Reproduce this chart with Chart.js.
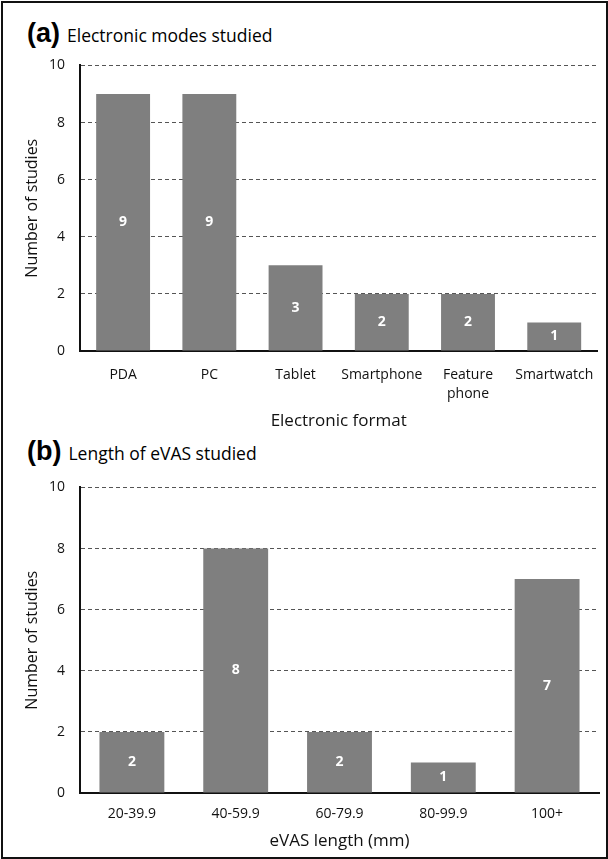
<!DOCTYPE html>
<html>
<head>
<meta charset="utf-8">
<script src="https://cdn.jsdelivr.net/npm/chart.js@4/dist/chart.umd.min.js"></script>
<style>
  html, body { margin: 0; padding: 0; background: #fff; }
  #figure { position: relative; width: 608px; height: 859px; overflow: hidden; }
  #frame { position: absolute; left: 1px; top: 1px; width: 603px; height: 854px; border: 2px solid #111; }
  .panel-title { position: absolute; left: 27px; font-family: "Open Sans", sans-serif; color: #000; white-space: nowrap; line-height: 1; }
  .panel-title b { font-family: "Liberation Sans", Arial, sans-serif; font-size: 27px; font-weight: bold; margin-right: 7px; }
  .panel-title span { font-size: 17.5px; }
  .chart-box { position: absolute; left: 0; width: 608px; }
</style>
</head>
<body>
<div id="figure">
  <div id="frame"></div>
  <div class="panel-title" style="top:20px"><b>(a)</b><span>Electronic modes studied</span></div>
  <div class="chart-box" style="top:42px;height:393px"><canvas id="chartA"></canvas></div>
  <div class="panel-title" style="top:438px"><b>(b)</b><span>Length of eVAS studied</span></div>
  <div class="chart-box" style="top:464px;height:390px"><canvas id="chartB"></canvas></div>
</div>
<script>
// Panel (a): electronic formats
const formats = ['PDA', 'PC', 'Tablet', 'Smartphone', ['Feature', 'phone'], 'Smartwatch'];
const formatStudies = [9, 9, 3, 2, 2, 1];

// Panel (b): eVAS lengths
const lengths = ['20-39.9', '40-59.9', '60-79.9', '80-99.9', '100+'];
const lengthStudies = [2, 8, 2, 1, 7];

// Shared value axis
const yMax = 10;
const yStep = 2;

const FONT = '"Open Sans", sans-serif';
const BAR = '#7f7f7f';

// Writes each bar's value in white at the middle of the bar
const centreLabels = {
  id: 'centreLabels',
  afterDatasetsDraw(chart) {
    const { ctx } = chart;
    const meta = chart.getDatasetMeta(0);
    const data = chart.data.datasets[0].data;
    ctx.save();
    ctx.fillStyle = '#ffffff';
    ctx.font = 'bold 14px ' + FONT;
    ctx.textAlign = 'center';
    ctx.textBaseline = 'middle';
    meta.data.forEach((bar, i) => {
      ctx.fillText(String(data[i]), bar.x, (bar.y + bar.base) / 2);
    });
    ctx.restore();
  }
};

function makeChart(id, labels, values, xTitle, opts) {
  return new Chart(document.getElementById(id), {
    type: 'bar',
    data: {
      labels: labels,
      datasets: [{
        data: values,
        backgroundColor: BAR,
        borderWidth: 0,
        categoryPercentage: 1,
        barPercentage: 0.625
      }]
    },
    options: {
      responsive: true,
      maintainAspectRatio: false,
      animation: false,
      layout: { padding: { top: 7, right: 9, left: 0, bottom: 0 } },
      plugins: { legend: { display: false }, tooltip: { enabled: false } },
      scales: {
        x: {
          grid: { display: false, drawTicks: false },
          border: { display: true, color: '#111', width: 2 },
          ticks: { color: '#111', padding: opts.tickPad, font: { family: FONT, size: 14, lineHeight: 1.4 }, maxRotation: 0, autoSkip: false },
          title: { display: true, text: xTitle, color: '#111', font: { family: FONT, size: 17 }, padding: { top: 0, bottom: opts.titlePad } },
          afterFit(scale) { scale.height = opts.xHeight; }
        },
        y: {
          min: 0, max: yMax,
          ticks: { stepSize: yStep, color: '#111', padding: 15, font: { family: FONT, size: 14 } },
          grid: {
            drawTicks: false,
            color: (c) => (c.tick && c.tick.value === 0) ? 'rgba(0,0,0,0)' : '#555',
            lineWidth: 1
          },
          border: { display: true, color: '#111', width: 2, dash: [4, 3] },
          title: { display: true, text: 'Number of studies', color: '#111', font: { family: FONT, size: 16 }, padding: { top: 23, bottom: 0 } },
          afterFit(scale) { scale.width = 80; }
        }
      }
    },
    plugins: [centreLabels]
  });
}

makeChart('chartA', formats, formatStudies, 'Electronic format', { xHeight: 84, tickPad: 14, titlePad: 4 });
makeChart('chartB', lengths, lengthStudies, 'eVAS length (mm)', { xHeight: 61, tickPad: 11, titlePad: 3 });
</script>
</body>
</html>
